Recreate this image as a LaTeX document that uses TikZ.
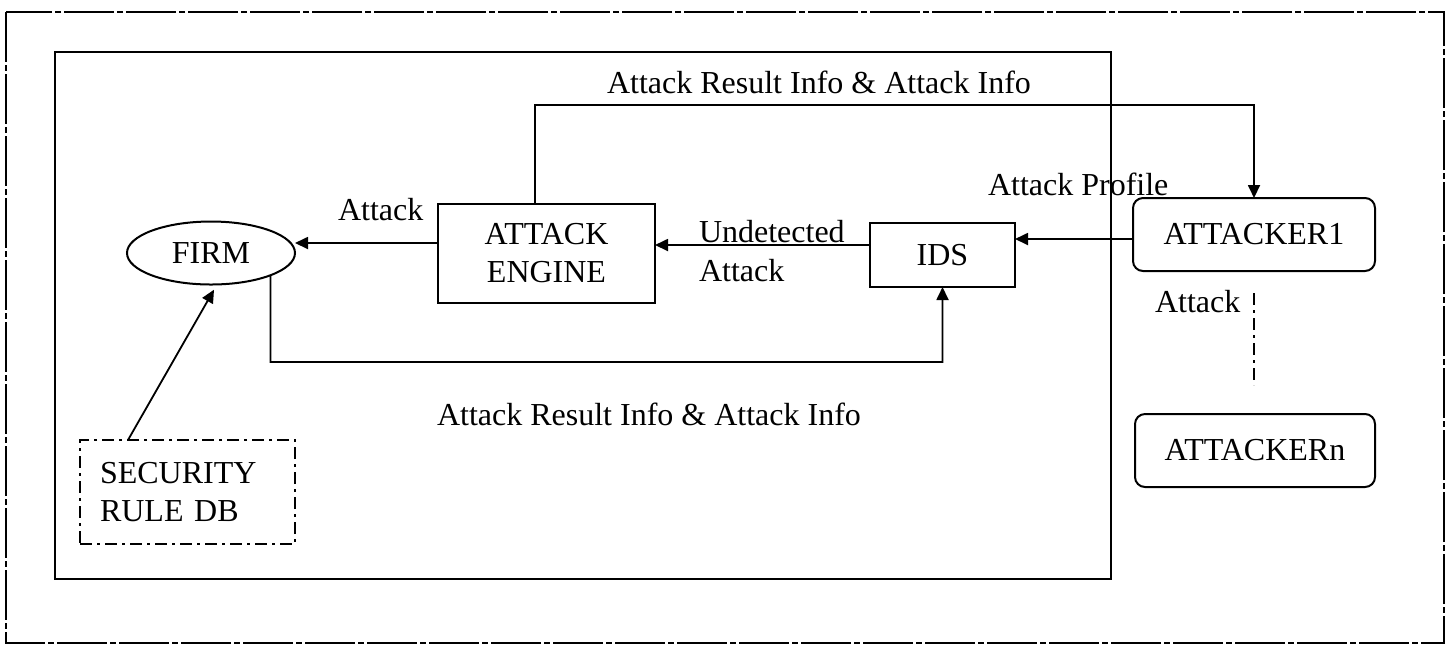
\documentclass[tikz,border=0pt]{standalone}
\usepackage{fontspec}
\setmainfont{Liberation Serif}
\usetikzlibrary{arrows.meta,shapes.geometric,calc}
\begin{document}
\begin{tikzpicture}[x=0.5pt,y=-0.5pt,
  font=\fontsize{16}{19}\selectfont,
  every node/.style={inner sep=0pt,outer sep=0pt},
  boxnode/.style={draw,line width=1pt,minimum width=#1},
  arr/.style={line width=0.9pt,-{Triangle[length=6.5pt,width=6pt]}},
  lbl/.style={anchor=base west},
  dashdotline/.style={line width=0.9pt,dash pattern=on 6pt off 2.5pt on 1.5pt off 2.5pt},
]
\useasboundingbox (0,0) rectangle (1449,645);
% outer frame
\draw[line width=0.7pt,dash pattern=on 25pt off 1.5pt on 3pt off 1.5pt] (6,12) rectangle (1444,643);
% inner frame
\draw[line width=1pt] (55,52) rectangle (1111,579);

% nodes
\node[draw,ellipse,line width=1pt,minimum width=84pt,minimum height=31.5pt] (firm) at (211,253) {FIRM};
\node[boxnode=108.5pt,minimum height=49.5pt,align=center] (engine) at (546.5,253.5) {ATTACK\\ENGINE};
\node[boxnode=72.5pt,minimum height=32pt] (ids) at (942.5,255) {IDS};
\node[boxnode=121pt,minimum height=36.5pt,rounded corners=5pt] (a1) at (1254,234.5) {ATTACKER1};
\node[boxnode=120pt,minimum height=36.5pt,rounded corners=5pt] (an) at (1255,450.5) {ATTACKERn};
\node[draw,dashdotline,text width=87.5pt,inner xsep=10pt,minimum height=52pt,align=left] (sec) at (187.5,492) {\fontsize{16}{18.5}\selectfont SECURITY\\RULE DB};

% coordinates
\coordinate (tl) at (535,105);
\coordinate (fb) at (270.4,362);

% connectors
\draw[arr] ([yshift=5.25pt]engine.west) -- ([yshift=5.25pt]engine.west -| firm.east);
\draw[arr] ([yshift=5pt]ids.west) -- ([yshift=5pt]ids.west -| engine.east);
\draw[arr] ([yshift=-2.25pt]a1.west) -- ([yshift=-2.25pt]a1.west -| ids.east);
\draw[arr] ([xshift=-5.75pt]engine.north) -- (tl) -| (a1.north);
\draw[arr] (firm.south east) -- (fb) -| (ids.south);
\draw[arr,shorten >=3pt] ([xshift=-29.75pt]sec.north) -- ([xshift=3pt]firm.south);
\draw[dashdotline,shorten <=11pt,shorten >=14.5pt] (a1.south) -- (a1.south |- an.north);

% labels
\node[lbl] (l1) at (607,93) {Attack Result Info \& Attack Info};
\node[lbl] (l2) at (988,195) {Attack Profile};
\node[lbl] (l3) at (338,220) {Attack};
\node[lbl] (l4) at (699,242) {Undetected};
\node[lbl] (l5) at (699,281) {Attack};
\node[lbl] (l6) at (1155,312) {Attack};
\node[lbl] (l7) at (437,425) {Attack Result Info \& Attack Info};
\end{tikzpicture}
\end{document}
